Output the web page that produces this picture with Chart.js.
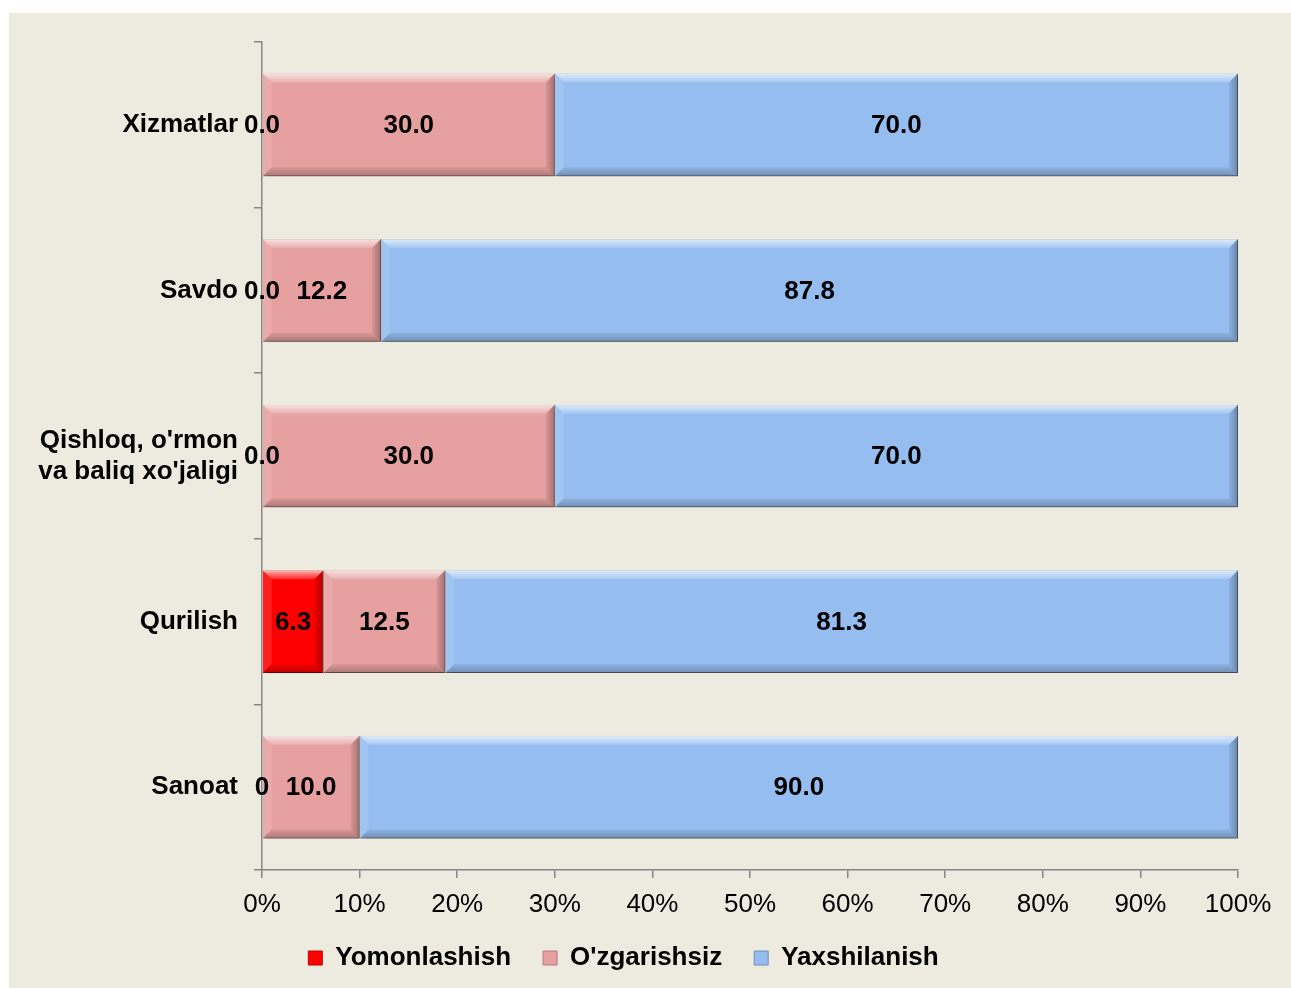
<!DOCTYPE html>
<html>
<head>
<meta charset="utf-8">
<script src="https://cdn.jsdelivr.net/npm/chart.js@4.4.1/dist/chart.umd.min.js"></script>
<style>
  html, body { margin: 0; padding: 0; background: #ffffff; }
  #wrap { position: absolute; left: 9px; top: 13px; width: 1282px; height: 975px; background: #edeadf; }
</style>
</head>
<body>
<div id="wrap"><canvas id="chart1"></canvas></div>
<script>
// -- THE DATA --

const chart1_labels = [
  "Xizmatlar", "Savdo", ["Qishloq, o'rmon", "va baliq xo'jaligi"], "Qurilish", "Sanoat"
];

const yomon_values  = [0, 0, 0, 6.3, 0];
const ozgar_values  = [30.0, 12.2, 30.0, 12.5, 10.0];
const yaxshi_values = [70.0, 87.8, 70.0, 81.3, 90.0];

// decimals shown in the labels of the first series (Sanoat shows plain "0")
const yomon_decimals = [1, 1, 1, 1, 0];

const series_names = ["Yomonlashish", "O'zgarishsiz", "Yaxshilanish"];

// -- 100% STACK --

const totals = yomon_values.map((v, i) => v + ozgar_values[i] + yaxshi_values[i]);
const pct = arr => arr.map((v, i) => v / totals[i] * 100);

// -- PLUGINS --

// bevel + shadow, looks like the office 3D bars
const bevelPlugin = {
  id: 'bevel',
  beforeDatasetDraw(chart) {
    const ctx = chart.ctx;
    ctx.save();
    ctx.shadowColor = 'rgba(0,0,0,0.35)';
    ctx.shadowBlur = 5;
    ctx.shadowOffsetX = 2;
    ctx.shadowOffsetY = 3;
  },
  afterDatasetDraw(chart, args) {
    const ctx = chart.ctx;
    ctx.restore();
    const meta = args.meta;
    meta.data.forEach(bar => {
      const p = bar.getProps(['x', 'y', 'base', 'height'], true);
      const l = Math.min(p.x, p.base), r = Math.max(p.x, p.base);
      const t = p.y - p.height / 2, b = p.y + p.height / 2;
      const w = r - l;
      if (w < 1) return;
      const s = Math.min(9, w / 2);
      ctx.save();
      // top
      let g = ctx.createLinearGradient(0, t, 0, t + s);
      g.addColorStop(0, 'rgba(255,255,255,0.7)');
      g.addColorStop(1, 'rgba(255,255,255,0.15)');
      ctx.fillStyle = g;
      ctx.beginPath();
      ctx.moveTo(l, t); ctx.lineTo(r, t); ctx.lineTo(r - s, t + s); ctx.lineTo(l + s, t + s);
      ctx.closePath(); ctx.fill();
      // left
      ctx.fillStyle = 'rgba(255,255,255,0.12)';
      ctx.beginPath();
      ctx.moveTo(l, t); ctx.lineTo(l + s, t + s); ctx.lineTo(l + s, b - s); ctx.lineTo(l, b);
      ctx.closePath(); ctx.fill();
      // bottom
      g = ctx.createLinearGradient(0, b - s, 0, b);
      g.addColorStop(0, 'rgba(0,0,0,0.05)');
      g.addColorStop(1, 'rgba(0,0,0,0.25)');
      ctx.fillStyle = g;
      ctx.beginPath();
      ctx.moveTo(l, b); ctx.lineTo(l + s, b - s); ctx.lineTo(r - s, b - s); ctx.lineTo(r, b);
      ctx.closePath(); ctx.fill();
      // right
      g = ctx.createLinearGradient(r - s, 0, r, 0);
      g.addColorStop(0, 'rgba(0,0,0,0.06)');
      g.addColorStop(1, 'rgba(0,0,0,0.3)');
      ctx.fillStyle = g;
      ctx.beginPath();
      ctx.moveTo(r, t); ctx.lineTo(r, b); ctx.lineTo(r - s, b - s); ctx.lineTo(r - s, t + s);
      ctx.closePath(); ctx.fill();
      ctx.restore();
    });
  }
};

// value labels in the middle of each piece
const valueLabels = {
  id: 'valueLabels',
  afterDatasetsDraw(chart) {
    const ctx = chart.ctx;
    ctx.save();
    ctx.font = 'bold 26px Arial, "Liberation Sans", sans-serif';
    ctx.fillStyle = '#000';
    ctx.textAlign = 'center';
    ctx.textBaseline = 'middle';
    chart.data.datasets.forEach((ds, di) => {
      chart.getDatasetMeta(di).data.forEach((bar, i) => {
        const raw = ds.rawValues[i];
        const dec = ds.decimals ? ds.decimals[i] : 1;
        const p = bar.getProps(['x', 'y', 'base'], true);
        ctx.fillText(raw.toFixed(dec), (p.x + p.base) / 2, p.y + 1);
      });
    });
    ctx.restore();
  }
};

// -- THE DATA OBJ --

const chart1_data_obj = {
  labels: chart1_labels,
  datasets: [{
    label: series_names[0],
    data: pct(yomon_values),
    rawValues: yomon_values,
    decimals: yomon_decimals,
    backgroundColor: '#ff0000',
    borderColor: '#c00000',
    borderWidth: 1
  }, {
    label: series_names[1],
    data: pct(ozgar_values),
    rawValues: ozgar_values,
    backgroundColor: '#e6a09f',
    borderColor: '#b37c7b',
    borderWidth: 1
  }, {
    label: series_names[2],
    data: pct(yaxshi_values),
    rawValues: yaxshi_values,
    backgroundColor: '#95bdef',
    borderColor: '#6d8cb3',
    borderWidth: 1
  }]
};

// -- THE CHART --

const axisGrey = '#868686';

const chart1_chart_obj = {
  type: 'bar',
  data: chart1_data_obj,
  options: {
    indexAxis: 'y',
    responsive: true,
    maintainAspectRatio: false,
    animation: false,
    barPercentage: 0.62,
    categoryPercentage: 1,
    layout: { padding: { left: 0, right: 53, top: 29, bottom: 7 } },
    scales: {
      x: {
        stacked: true,
        min: 0,
        max: 100,
        afterFit(scale) { scale.height = 43; },
        ticks: {
          stepSize: 10,
          padding: 11,
          color: '#000',
          font: { family: 'Arial, "Liberation Sans", sans-serif', size: 26 },
          callback: v => v + '%'
        },
        grid: { drawOnChartArea: false, tickLength: 8, color: axisGrey, lineWidth: 1.5 },
        border: { color: axisGrey, width: 1.5 }
      },
      y: {
        stacked: true,
        afterFit(scale) {
          scale.width = 253;
          scale.paddingTop = 0;
          scale.paddingBottom = 0;
        },
        ticks: {
          padding: 16,
          color: '#000',
          font: { family: 'Arial, "Liberation Sans", sans-serif', size: 26, weight: 'bold', lineHeight: 1.2 }
        },
        grid: { drawOnChartArea: false, offset: true, tickLength: 8, color: axisGrey, lineWidth: 1.5 },
        border: { color: axisGrey, width: 1.5 }
      }
    },
    plugins: {
      legend: {
        position: 'bottom',
        labels: {
          boxWidth: 14,
          boxHeight: 14,
          padding: 32,
          color: '#000',
          font: { family: 'Arial, "Liberation Sans", sans-serif', size: 26, weight: 'bold' }
        }
      },
      tooltip: { enabled: false }
    }
  },
  plugins: [bevelPlugin, valueLabels]
};

new Chart('chart1', chart1_chart_obj);
</script>
</body>
</html>
